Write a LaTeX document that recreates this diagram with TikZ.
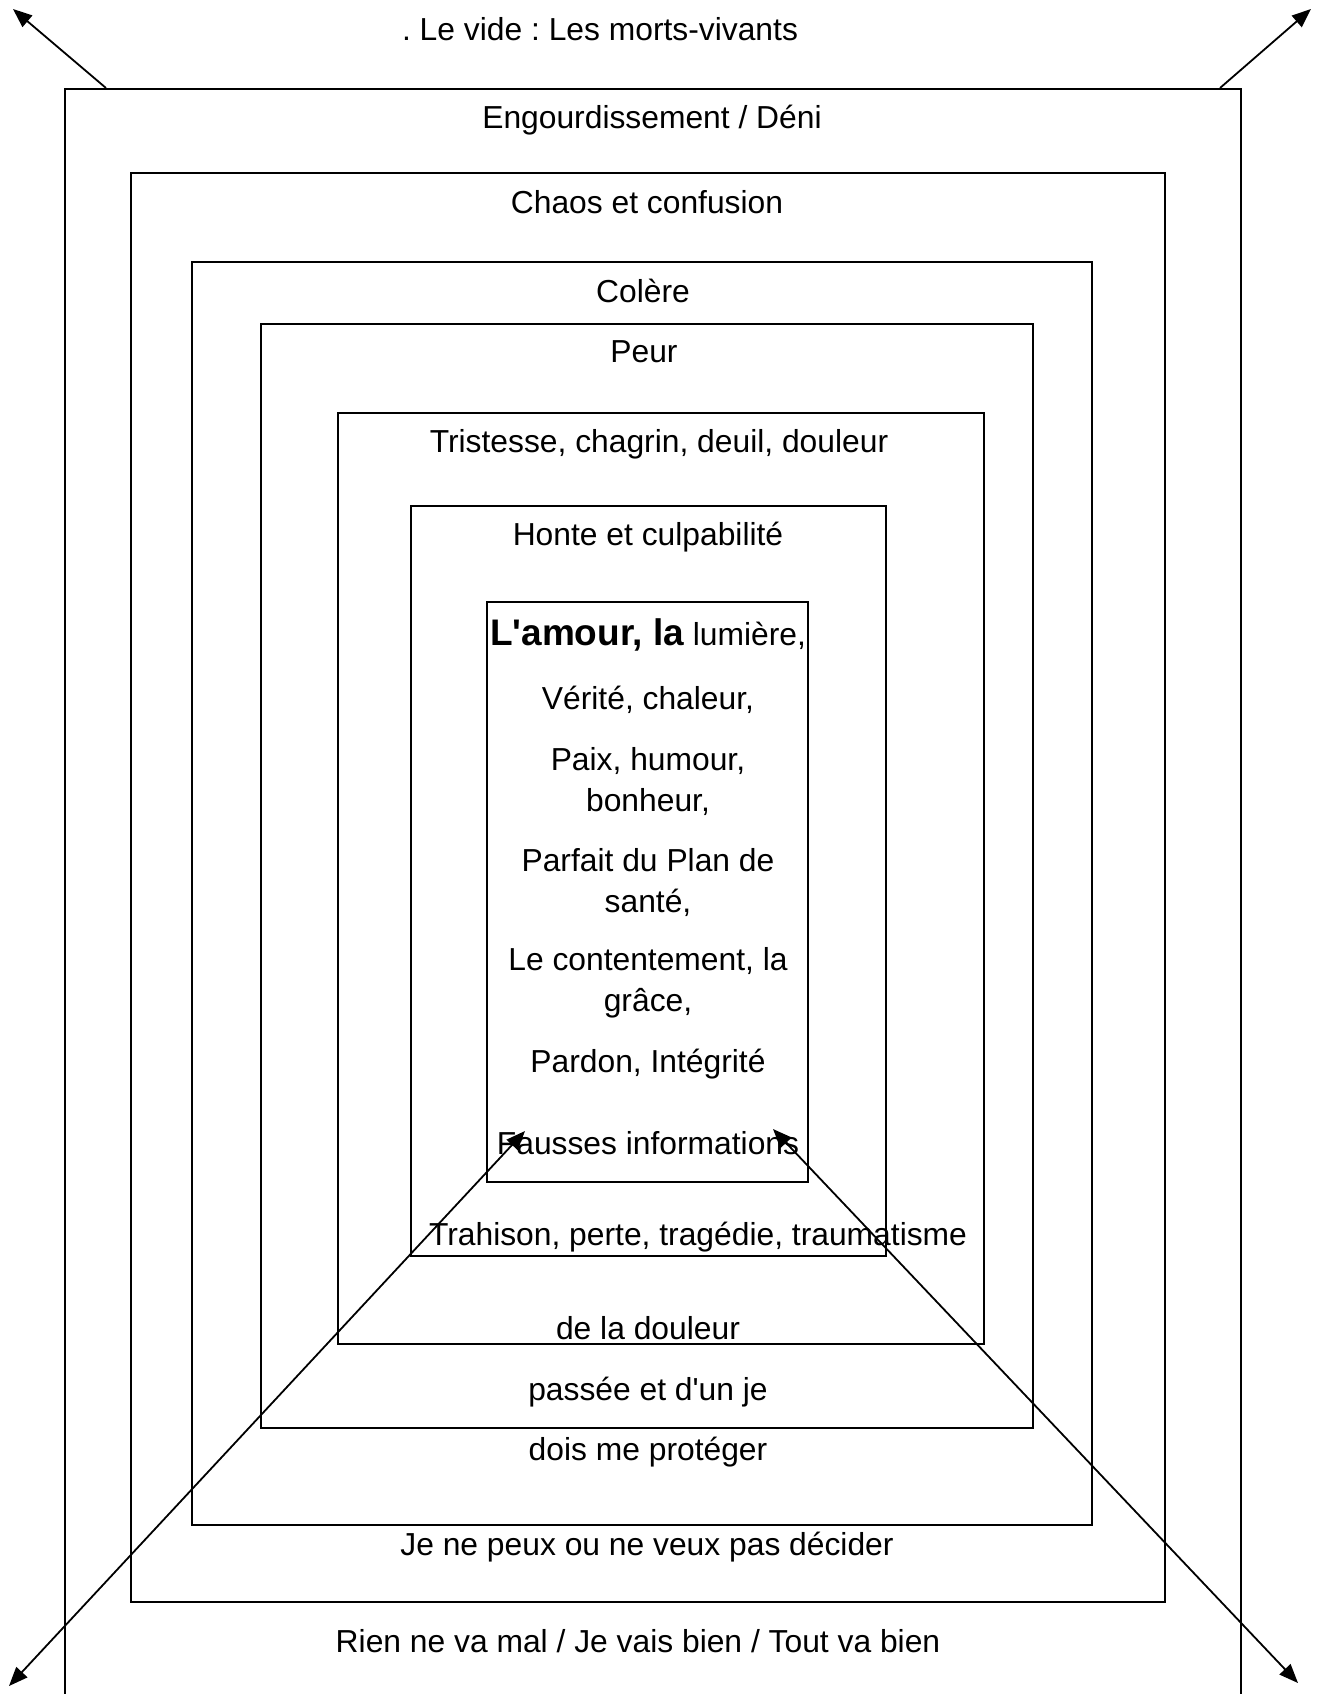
\documentclass[tikz,border=0pt]{standalone}
\usepackage{fontspec}
\setmainfont{Liberation Sans}
\usetikzlibrary{arrows.meta}
\frenchspacing

\tikzset{
  frame/.style={line width=1pt},
  lbl/.style={font=\fontsize{15.9}{20}\selectfont, inner sep=0pt, anchor=base},
  ray/.style={line width=0.9pt, -{Triangle[length=9.5pt,width=7.5pt]}},
  bothray/.style={line width=0.9pt, {Triangle[length=9.5pt,width=7.5pt]}-{Triangle[length=9.5pt,width=7.5pt]}}
}

\begin{document}
\begin{tikzpicture}[x=0.5pt, y=-0.5pt]
        \useasboundingbox (0,0) rectangle (1319,1694);
        % Frames, outside to inside
        \draw[frame] (65,1700) -- (65,89) -- (1241,89) -- (1241,1700);
        \draw[frame] (131,173) rectangle (1165,1602);
        \draw[frame] (192,262) rectangle (1092,1525);
        \draw[frame] (261,324) rectangle (1033,1428);
        \draw[frame] (338,413) rectangle (984,1344);
        \draw[frame] (411,506) rectangle (886,1256);
        \draw[frame] (487,602) rectangle (808,1182);
        % Layer labels
        \node[lbl] (vide) at (600,40) {. Le vide : Les morts-vivants};
        \node[lbl] (deni) at (652,128) {Engourdissement / Déni};
        \node[lbl] (chaos) at (647,213) {Chaos et confusion};
        \node[lbl] (colere) at (643,302) {Colère};
        \node[lbl] (peur) at (644,362) {Peur};
        \node[lbl] (tristesse) at (659,452) {Tristesse, chagrin, deuil, douleur};
        \node[lbl] (honte) at (648,545) {Honte et culpabilité};
        % Core
        \node[lbl] (amour) at (648,645) {{\fontsize{18.5}{22}\selectfont\bfseries L\textquotesingle amour, la} lumière,};
        \foreach \y/\t in {709/{Vérité, chaleur,}, 770/{Paix, humour,}, 811/{bonheur,},
                           871/{Parfait du Plan de}, 912/{santé,}, 970/{Le contentement, la},
                           1011/{grâce,}, 1072/{Pardon, Intégrité}, 1154/{Fausses informations}} {
          \node[lbl] (core\y) at (648,\y) {\t};
        }
        % Lower labels
        \node[lbl] (trahison) at (698,1245) {Trahison, perte, tragédie, traumatisme};
        \node[lbl] (douleur) at (648,1339) {de la douleur};
        \node[lbl] (passee) at (648,1400) {passée et d\textquotesingle un je};
        \node[lbl] (proteger) at (648,1460) {dois me protéger};
        \node[lbl] (decider) at (647,1555) {Je ne peux ou ne veux pas décider};
        \node[lbl] (rien) at (638,1652) {Rien ne va mal / Je vais bien / Tout va bien};
        % Arrows
        \coordinate (tlfoot) at (106,88);
        \coordinate (tltip) at (13,9);
        \coordinate (trfoot) at (1220,88);
        \coordinate (trtip) at (1311,9);
        \coordinate (blin) at (525,1131);
        \coordinate (blout) at (9,1686);
        \coordinate (brin) at (773,1129);
        \coordinate (brout) at (1298,1683);
        \draw[ray] (tlfoot) -- (tltip);
        \draw[ray] (trfoot) -- (trtip);
        \draw[bothray] (blin) -- (blout);
        \draw[bothray] (brin) -- (brout);
      \end{tikzpicture}
\end{document}
